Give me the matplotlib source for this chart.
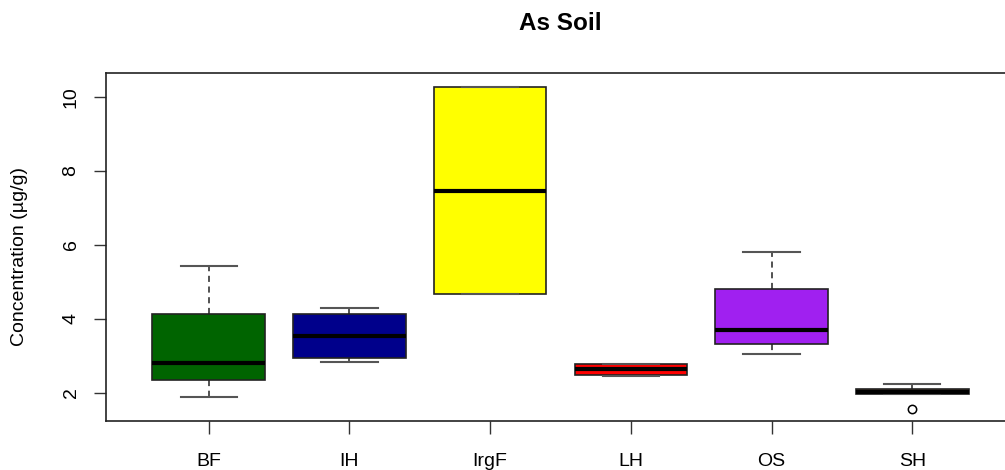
import matplotlib
matplotlib.use('Agg')
import matplotlib.pyplot as plt

# ========== DATA ==========
sites = ['BF', 'IH', 'IrgF', 'LH', 'OS', 'SH']
whislo = [1.88, 2.83, 4.68, 2.45, 3.04, 1.97]
q1 = [2.35, 2.95, 4.68, 2.49, 3.31, 1.97]
med = [2.82, 3.53, 7.46, 2.65, 3.71, 2.03]
q3 = [4.12, 4.14, 10.28, 2.79, 4.81, 2.11]
whishi = [5.44, 4.29, 10.28, 2.79, 5.80, 2.23]
outliers = [[], [], [], [], [], [1.56]]
colors = ['#006400', '#00008B', '#FFFF00', '#FF0000', '#A020F0', '#5C3A21']

plt.rcParams['font.family'] = ['Liberation Sans', 'DejaVu Sans']

fig = plt.figure(figsize=(10.05, 4.70), dpi=100)
ax = fig.add_axes([106 / 1005, 49 / 470, 909 / 1005, 348 / 470])

stats = []
for i, s in enumerate(sites):
    stats.append({'label': s, 'whislo': whislo[i], 'q1': q1[i], 'med': med[i],
                  'q3': q3[i], 'whishi': whishi[i], 'fliers': outliers[i]})

bp = ax.bxp(stats, positions=range(1, 7), widths=0.8, patch_artist=True,
            boxprops=dict(edgecolor='#222222', linewidth=1.2),
            medianprops=dict(color='black', linewidth=3),
            whiskerprops=dict(color='#222222', linewidth=1.1, linestyle=(0, (4, 3))),
            capprops=dict(color='#555555', linewidth=1.5),
            capwidths=0.4,
            flierprops=dict(marker='o', markerfacecolor='none',
                            markeredgecolor='black', markersize=6, markeredgewidth=1.1))
for patch, c in zip(bp['boxes'], colors):
    patch.set_facecolor(c)

ax.set_xlim(0.27, 6.73)
ax.set_ylim(1.24, 10.65)
ax.set_yticks([2, 4, 6, 8, 10])
ax.set_xticks(range(1, 7))
ax.set_xticklabels(sites)
for lab in ax.get_yticklabels():
    lab.set_rotation(90)
    lab.set_va('center')
ax.tick_params(axis='both', length=9, width=1, labelsize=14, color='#333333')
ax.tick_params(axis='x', pad=14)
ax.tick_params(axis='y', pad=10)

for sp in ax.spines.values():
    sp.set_linewidth(1.2)
    sp.set_color('#222222')

fig.text(20 / 1005, 1 - 256 / 470, 'Concentration (µg/g)', rotation=90,
         ha='center', va='center', fontsize=14)
fig.text(560 / 1005, 1 - 23 / 470, 'As Soil', ha='center', va='center',
         fontsize=17.5, fontweight='bold')

fig.savefig('out.png', dpi=100)
